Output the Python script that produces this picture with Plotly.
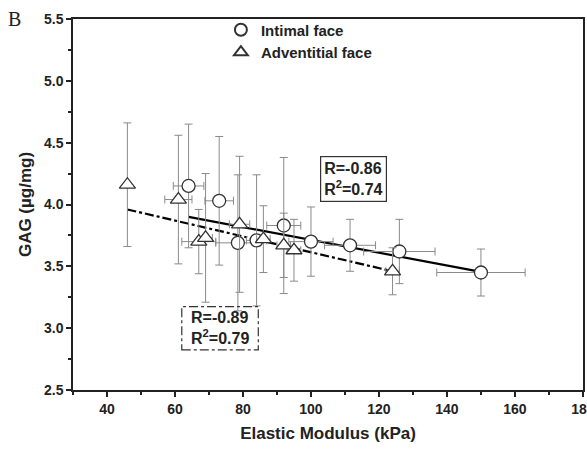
import plotly.graph_objects as go

# Intimal face (circles)
intimal_x = [64, 73, 78.5, 84, 92, 100, 111.5, 126, 150]
intimal_y = [4.15, 4.03, 3.69, 3.71, 3.83, 3.70, 3.67, 3.62, 3.45]
intimal_yerr = [0.50, 0.52, 0.55, 0.53, 0.55, 0.28, 0.21, 0.26, 0.19]
intimal_xerr = [4.5, 4.2, 6.5, 3, 5, 6.5, 7.5, 10.5, 13]

# Adventitial face (triangles)
advent_x = [46, 61, 67, 69, 79, 86, 92, 95, 124]
advent_y = [4.16, 4.04, 3.70, 3.73, 3.84, 3.72, 3.67, 3.63, 3.46]
advent_yerr = [0.50, 0.52, 0.26, 0.52, 0.55, 0.27, 0.26, 0.25, 0.19]
advent_xerr = [0, 4, 5, 2, 3, 2, 2, 2, 2]

# Regression lines (end points)
intimal_fit_x = [64, 150]
intimal_fit_y = [3.90, 3.455]
advent_fit_x = [46, 124]
advent_fit_y = [3.96, 3.46]

# Axis ticks
x_tickvals = [40, 60, 80, 100, 120, 140, 160, 180]
x_ticktext = ["40", "60", "80", "100", "120", "140", "160", "180"]

FONT = "Liberation Sans, Arial, sans-serif"
EBAR = "#8a8a8a"
MK = "#333333"

fig = go.Figure()

fig.add_trace(go.Scatter(x=advent_fit_x, y=advent_fit_y, mode="lines",
                         line=dict(color="black", width=2.2, dash="dashdot"),
                         showlegend=False, hoverinfo="skip"))
fig.add_trace(go.Scatter(x=intimal_fit_x, y=intimal_fit_y, mode="lines",
                         line=dict(color="black", width=2.2),
                         showlegend=False, hoverinfo="skip"))

fig.add_trace(go.Scatter(
    x=intimal_x, y=intimal_y, mode="markers", name="<b>Intimal face</b>",
    marker=dict(symbol="circle", size=13, color="white", line=dict(color=MK, width=1.3)),
    error_y=dict(type="data", array=intimal_yerr, color=EBAR, thickness=1, width=4),
    error_x=dict(type="data", array=intimal_xerr, color=EBAR, thickness=1, width=4),
))
fig.add_trace(go.Scatter(
    x=advent_x, y=advent_y, mode="markers", name="<b>Adventitial face</b>",
    marker=dict(symbol="triangle-up", size=14, color="white", line=dict(color=MK, width=1.3)),
    error_y=dict(type="data", array=advent_yerr, color=EBAR, thickness=1, width=4),
    error_x=dict(type="data", array=advent_xerr, color=EBAR, thickness=1, width=4),
))

axis_common = dict(showline=True, linecolor="#222", linewidth=1.5, mirror=True,
                   ticks="outside", tickcolor="#222", ticklen=5, tickwidth=1.5,
                   showgrid=False, zeroline=False, ticklabeloverflow="allow",
                   automargin=False,
                   tickfont=dict(family=FONT, size=14, color="#222"))

fig.update_xaxes(range=[30, 180.02], tickmode="array", tickvals=x_tickvals,
                 ticktext=["<b>" + t + "</b>" for t in x_ticktext],
                 title=dict(text="<b>Elastic Modulus (kPa)</b>", font=dict(family=FONT, size=17, color="#222"), standoff=12),
                 minor=dict(ticks="outside", dtick=10, tick0=0, ticklen=3, tickcolor="#222", tickwidth=1.5),
                 **axis_common)
fig.update_yaxes(range=[2.5, 5.5], tick0=0, dtick=0.5, tickformat=".1f",
                 title=dict(text="<b>GAG (µg/mg)</b>", font=dict(family=FONT, size=17, color="#222"), standoff=8),
                 minor=dict(ticks="outside", dtick=0.25, tick0=0, ticklen=3, tickcolor="#222", tickwidth=1.5),
                 tickprefix="<b>", ticksuffix="</b>",
                 **axis_common)

fig.add_annotation(x=112.6, y=4.21, xref="x", yref="y",
                   text="<b>R=-0.86<br>R<sup>2</sup>=0.74</b>", showarrow=False,
                   font=dict(family=FONT, size=16, color="#222"), align="left",
                   bordercolor="#333", borderwidth=1.2, borderpad=3, bgcolor="white")
fig.add_annotation(x=73.3, y=3.0, xref="x", yref="y",
                   text="<b>R=-0.89<br>R<sup>2</sup>=0.79</b>", showarrow=False,
                   font=dict(family=FONT, size=16, color="#222"), align="left")
fig.add_shape(type="rect", xref="x", yref="y", x0=62.0, x1=84.5, y0=2.825, y1=3.175,
              line=dict(color="#333", width=1.2, dash="dashdot"))

fig.add_annotation(x=-0.115, y=1.0, xref="paper", yref="paper", xanchor="center", yanchor="middle",
                   text="B", showarrow=False,
                   font=dict(family="Liberation Serif, DejaVu Serif, serif", size=20, color="#222"))

fig.update_layout(
    width=587, height=450,
    margin=dict(l=73, r=4, t=19, b=60, autoexpand=False),
    paper_bgcolor="white", plot_bgcolor="white",
    legend=dict(x=0.29, y=1.015, xanchor="left", yanchor="top", bgcolor="rgba(0,0,0,0)",
                font=dict(family=FONT, size=15, color="#222"), itemsizing="constant",
                tracegroupgap=0),
    font=dict(family=FONT),
)

fig.write_html("out.html")
